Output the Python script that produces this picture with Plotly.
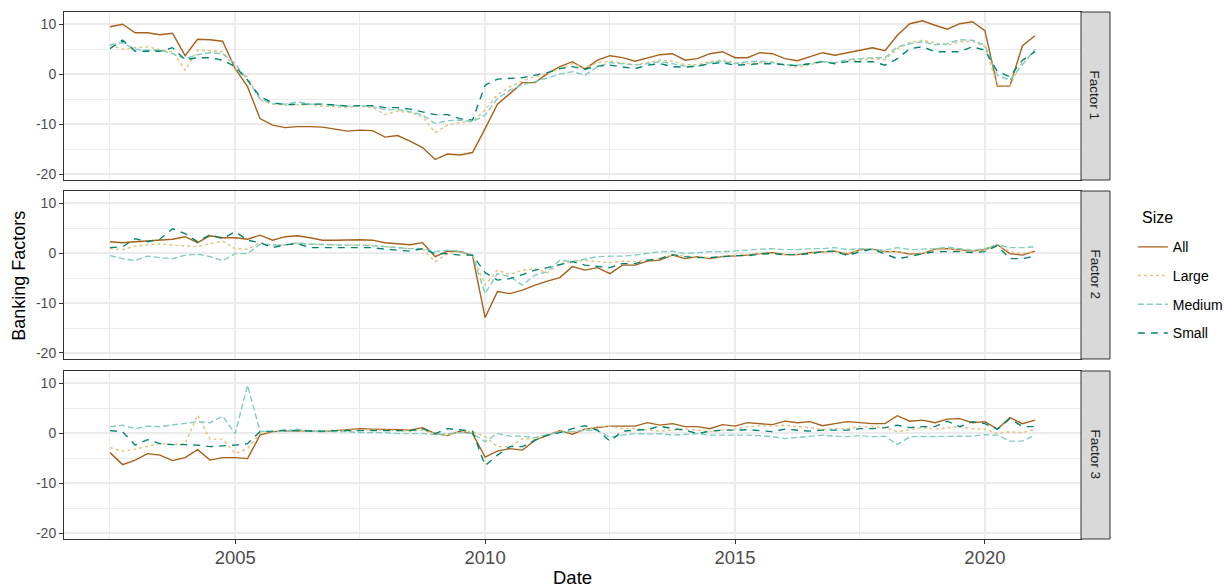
import pandas as pd
import plotly.graph_objects as go

# ---------------- data ----------------
dates = pd.date_range("2002-07-01", periods=75, freq="QS")
sizes = ["All", "Large", "Medium", "Small"]
factors = ["Factor 1", "Factor 2", "Factor 3"]

f1_all = [9.5, 10.0, 8.3, 8.3, 7.9, 8.2, 3.7, 7.0, 6.9, 6.6, 1.1, -2.5, -8.9, -10.2, -10.7, -10.5, -10.5, -10.6, -11.0, -11.4,
          -11.2, -11.3, -12.6, -12.3, -13.4, -14.7, -17.1, -16.0, -16.2, -15.7, -10.9, -6.0, -3.9, -1.7, -1.7, 0.1, 1.5, 2.5, 1.0, 2.8,
          3.7, 3.3, 2.6, 3.3, 3.9, 4.1, 2.8, 3.1, 4.1, 4.5, 3.3, 3.3, 4.3, 4.1, 3.1, 2.7, 3.5, 4.3, 3.8, 4.3,
          4.7, 5.3, 4.7, 7.8, 10.1, 10.7, 9.8, 9.0, 10.1, 10.5, 8.7, -2.4, -2.4, 5.7, 7.7]
f1_large = [5.8, 5.0, 5.3, 5.5, 4.9, 4.5, 0.8, 4.8, 4.7, 4.5, 1.1, -0.5, -5.2, -6.0, -6.2, -6.2, -6.1, -6.4, -6.5, -6.7,
            -6.4, -6.7, -8.1, -7.4, -7.7, -8.5, -11.7, -10.2, -9.7, -9.5, -7.2, -4.1, -2.5, -1.4, -0.5, 0.1, 1.1, 2.1, 1.3, 2.3,
            2.6, 2.3, 1.9, 2.3, 2.8, 2.6, 1.9, 1.9, 2.5, 2.8, 2.3, 2.1, 2.3, 2.5, 1.8, 1.4, 1.9, 2.5, 2.3, 2.7,
            2.8, 3.1, 2.9, 5.1, 6.3, 6.8, 6.3, 5.8, 6.5, 6.6, 5.5, -2.2, -2.4, 2.5, 4.5]
f1_medium = [5.9, 6.3, 5.0, 4.8, 4.8, 4.1, 3.1, 3.9, 4.3, 4.1, 2.1, -1.2, -4.9, -5.9, -6.0, -5.5, -6.0, -6.0, -6.2, -6.4,
             -6.3, -6.5, -7.1, -7.1, -7.5, -8.2, -9.9, -9.3, -9.2, -9.5, -8.2, -4.9, -3.2, -2.1, -1.5, -0.7, 0.0, 0.5, -0.2, 1.5,
             2.3, 2.1, 1.8, 2.1, 2.5, 2.1, 1.6, 1.6, 2.3, 2.6, 2.1, 2.5, 2.6, 2.3, 1.9, 1.8, 2.1, 2.5, 2.3, 2.9,
             3.1, 3.3, 3.3, 5.5, 6.1, 6.5, 5.9, 6.1, 6.9, 6.8, 5.8, -0.2, -1.2, 1.8, 5.0]
f1_small = [5.1, 6.8, 4.6, 4.6, 4.6, 5.3, 2.9, 3.3, 3.3, 2.8, 1.5, -1.2, -4.5, -5.7, -6.1, -6.0, -6.0, -6.0, -6.2, -6.4,
            -6.3, -6.3, -6.7, -6.7, -7.0, -7.5, -8.1, -8.1, -8.9, -9.2, -2.2, -1.0, -0.9, -0.7, -0.2, 0.3, 1.1, 1.5, 1.0, 1.6,
            1.8, 1.5, 1.1, 1.8, 2.1, 1.5, 1.4, 1.6, 2.1, 2.3, 1.8, 1.9, 2.1, 2.1, 1.9, 1.7, 2.1, 2.5, 2.1, 2.5,
            2.5, 2.5, 1.8, 3.1, 5.1, 5.5, 4.5, 4.5, 4.5, 5.5, 4.8, 0.5, -0.5, 2.8, 4.5]

f2_all = [2.3, 2.1, 2.3, 2.5, 2.6, 2.8, 3.3, 2.1, 3.5, 3.1, 3.1, 2.8, 3.6, 2.6, 3.3, 3.5, 3.1, 2.6, 2.6, 2.7,
          2.7, 2.6, 2.1, 1.9, 1.7, 2.1, -0.7, 0.4, 0.3, -0.5, -12.9, -7.7, -8.1, -7.4, -6.4, -5.6, -4.9, -2.7, -3.4, -2.9,
          -4.1, -2.4, -2.4, -1.6, -1.4, -0.4, -1.1, -0.7, -1.1, -0.7, -0.6, -0.4, -0.1, 0.1, -0.3, -0.3, 0.1, 0.3, 0.4, -0.2,
          0.7, 0.8, 0.3, 0.3, -0.2, -0.1, 0.8, 0.9, 0.6, 0.4, 0.7, 1.7, -0.1, -0.4, 0.4]
f2_large = [0.9, 0.7, 1.4, 1.6, 1.9, 1.6, 1.5, 1.3, 1.9, 2.4, 0.9, 0.8, 2.1, 1.6, 1.7, 1.9, 1.8, 1.7, 1.6, 1.6,
            1.6, 1.6, 1.3, 1.1, 0.9, 0.9, -1.7, -0.1, 0.3, -0.3, -6.4, -3.4, -4.3, -3.4, -3.1, -3.9, -2.1, -1.7, -1.4, -1.7,
            -1.9, -1.6, -1.7, -1.4, -1.1, -0.4, -0.6, -0.7, -0.9, -0.6, -0.4, -0.3, -0.1, -0.1, -0.3, -0.3, -0.1, 0.3, 0.3, -0.1,
            0.6, 0.7, 0.4, 0.3, -0.4, -0.1, 0.6, 0.9, 0.5, 0.4, 0.6, 1.6, 0.3, -0.1, 0.4]
f2_medium = [-0.5, -1.1, -1.5, -0.6, -0.9, -1.1, -0.4, -0.2, -0.7, -1.5, -0.1, -0.1, 1.8, 1.6, 1.6, 2.1, 1.8, 1.7, 1.6, 1.6,
             1.6, 1.5, 1.3, 1.1, 0.9, 0.9, 0.3, 0.6, 0.4, -0.4, -8.1, -4.1, -4.7, -6.4, -4.4, -3.7, -1.4, -1.7, -1.2, -0.7,
             -0.6, -0.6, -0.4, -0.1, 0.3, 0.4, -0.1, 0.1, 0.3, 0.3, 0.4, 0.6, 0.8, 0.9, 0.7, 0.7, 0.9, 0.9, 1.1, 0.7,
             0.9, 0.8, 0.6, 1.1, 0.7, 0.8, 0.9, 1.2, 0.9, 0.6, 0.9, 1.7, 1.1, 1.1, 1.3]
f2_small = [1.1, 1.3, 2.9, 2.3, 2.8, 4.9, 3.9, 2.3, 3.7, 2.9, 4.3, 2.6, 2.1, 1.1, 1.7, 1.9, 1.1, 1.1, 1.1, 1.1,
            1.1, 1.1, 0.8, 0.6, 0.4, 0.9, -0.1, -0.1, -0.4, -0.4, -3.9, -5.4, -5.1, -4.3, -3.4, -2.9, -2.3, -1.7, -2.4, -2.6,
            -2.9, -2.1, -2.1, -1.4, -1.1, -0.3, -0.7, -0.9, -0.9, -0.7, -0.5, -0.5, -0.2, -0.1, -0.3, -0.3, -0.1, 0.3, 0.4, -0.5,
            0.3, 0.8, -0.1, -1.1, -0.7, -0.1, 0.3, 0.3, 0.3, 0.1, 0.3, 1.5, -1.1, -1.1, -0.6]

f3_all = [-3.9, -6.3, -5.4, -4.1, -4.4, -5.5, -4.9, -3.3, -5.4, -4.9, -4.9, -5.1, -0.4, 0.3, 0.4, 0.5, 0.4, 0.3, 0.5, 0.7,
          0.9, 0.8, 0.8, 0.7, 0.6, 1.1, -0.1, -0.5, 0.4, -0.1, -4.8, -3.6, -3.1, -3.4, -1.4, -0.4, 0.5, -0.2, 0.8, 1.1,
          1.4, 1.4, 1.4, 2.1, 1.6, 1.9, 1.3, 1.3, 0.9, 1.7, 1.4, 2.1, 1.9, 1.7, 2.4, 2.1, 2.3, 1.5, 1.9, 2.3,
          2.1, 1.9, 1.9, 3.5, 2.4, 2.6, 2.1, 2.8, 2.9, 2.1, 2.3, 0.8, 3.1, 1.9, 2.6]
f3_large = [-2.9, -3.6, -3.2, -2.7, -2.1, -2.3, -2.1, 3.6, -1.2, -1.2, -4.1, -3.1, -0.1, 0.4, 0.5, 0.6, 0.4, 0.4, 0.6, 0.6,
            0.7, 0.6, 0.6, 0.5, 0.4, 0.6, -0.1, -0.5, 0.3, 0.3, -0.7, -2.7, -2.7, -1.1, -1.2, -0.4, 0.5, 0.2, 0.8, 1.3,
            1.4, 0.9, 0.9, 0.6, 0.4, 0.6, 0.9, 0.6, 0.3, 0.6, 0.8, 1.3, 1.5, 1.4, 1.6, 1.3, 1.1, 0.7, 0.9, 0.9,
            1.3, 1.3, 1.1, 0.3, 0.7, 1.1, 0.8, 1.1, 1.3, 0.9, 0.8, -0.1, 0.3, 0.1, 0.8]
f3_medium = [1.3, 1.6, 0.9, 1.4, 1.3, 1.6, 1.9, 2.3, 2.1, 3.4, -0.1, 9.6, 0.4, 0.3, 0.4, 0.8, 0.4, 0.3, 0.3, 0.3,
             0.1, 0.1, 0.1, -0.1, -0.1, -0.1, -0.3, -0.1, 0.1, -0.1, -1.7, -0.1, -0.6, -0.6, -0.9, -0.3, 0.2, 0.3, 0.6, 0.5,
             -0.8, -0.4, -0.1, -0.2, -0.1, -0.4, -0.3, -0.1, -0.4, -0.4, -0.3, -0.4, -0.5, -0.7, -1.1, -0.9, -0.7, -0.4, -0.6, -0.7,
             -0.5, -0.7, -0.6, -2.3, -0.7, -0.7, -0.6, -0.6, -0.7, -0.6, -0.3, -0.4, -1.6, -1.6, -0.4]
f3_small = [0.5, 0.3, -2.4, -1.3, -2.1, -2.3, -2.3, -2.4, -2.7, -2.6, -2.4, -2.1, 0.3, 0.4, 0.6, 0.5, 0.4, 0.4, 0.5, 0.5,
            0.6, 0.6, 0.6, 0.5, 0.5, 0.9, -0.1, 0.9, 0.6, 0.4, -6.5, -4.4, -2.7, -2.7, -1.4, -0.4, 0.1, 0.9, 1.5, 0.6,
            -1.6, 0.4, 0.6, 0.7, 1.4, 0.9, 0.6, -0.1, 0.4, 0.6, 0.6, 0.7, 0.5, 0.3, 0.8, 0.6, 0.4, 0.6, 0.6, 0.6,
            0.9, 0.9, 1.1, 1.6, 1.1, 1.3, 1.3, 2.4, 1.3, 2.3, 1.9, 0.8, 2.9, 1.3, 1.3]

y_ticks = [-20, -10, 0, 10]
y_tick_labels = ["-20", "-10", "0", "10"]
x_ticks = ["2005-01-01", "2010-01-01", "2015-01-01", "2020-01-01"]
x_tick_labels = ["2005", "2010", "2015", "2020"]

data = {
    "Factor 1": [f1_all, f1_large, f1_medium, f1_small],
    "Factor 2": [f2_all, f2_large, f2_medium, f2_small],
    "Factor 3": [f3_all, f3_large, f3_medium, f3_small],
}

# ---------------- styling ----------------
colors = {"All": "#A6611A", "Large": "#DFC27D", "Medium": "#80CDC1", "Small": "#018571"}
dashes = {"All": "solid", "Large": "3px,3px", "Medium": "6px,3px", "Small": "7px,6px"}
FONT = "Arial, Liberation Sans, Helvetica, sans-serif"

domains = [[0.6812, 1.0], [0.3416, 0.6603], [0.0, 0.3188]]
x_range = ["2001-07-30", "2021-12-03"]
y_range = [-21.2, 12.45]

fig = go.Figure()
for k, fac in enumerate(factors):
    ax = "" if k == 0 else str(k + 1)
    for s, vals in zip(sizes, data[fac]):
        fig.add_trace(go.Scatter(
            x=dates, y=vals, mode="lines", name=s,
            legendgroup=s, showlegend=(k == 0),
            line=dict(color=colors[s], width=1.4, dash=dashes[s]),
            xaxis="x" + ax, yaxis="y" + ax,
        ))

layout = dict(
    width=1226, height=587, autosize=False,
    margin=dict(l=64, r=145, t=12, b=48, autoexpand=False),
    paper_bgcolor="white", plot_bgcolor="white",
    font=dict(family=FONT, color="#000000"),
    legend=dict(
        x=1.051, xanchor="left", y=0.584, yanchor="top",
        font=dict(size=14, color="#000000"),
        tracegroupgap=7.5, bgcolor="rgba(0,0,0,0)",
    ),
    showlegend=True,
)

grid = "#EBEBEB"
for k in range(3):
    ax = "" if k == 0 else str(k + 1)
    bottom = (k == 2)
    layout["xaxis" + ax] = dict(
        domain=[0, 1], anchor="y" + ax, range=x_range, type="date",
        tickvals=x_ticks, ticktext=x_tick_labels,
        showticklabels=bottom, ticks="outside" if bottom else "",
        ticklen=4, tickwidth=1, tickcolor="#333333", ticklabelstandoff=-2,
        tickfont=dict(size=18.5, color="#4D4D4D"),
        showgrid=True, gridcolor=grid, gridwidth=1.6,
        minor=dict(dtick="M30", tick0="2002-07-01", showgrid=True, gridcolor=grid, gridwidth=0.8),
        showline=True, mirror=True, linecolor="#333333", linewidth=1,
        zeroline=False,
        matches="x" if k > 0 else None,
    )
    layout["yaxis" + ax] = dict(
        domain=domains[k], anchor="x" + ax, range=y_range,
        tickvals=y_ticks, ticktext=y_tick_labels,
        ticks="outside", ticklen=4, tickwidth=1, tickcolor="#333333",
        tickfont=dict(size=14, color="#4D4D4D"),
        showgrid=True, gridcolor=grid, gridwidth=1.6,
        minor=dict(tickvals=[-15, -5, 5], showgrid=True, gridcolor=grid, gridwidth=0.8),
        showline=True, mirror=True, linecolor="#333333", linewidth=1,
        zeroline=False,
    )

fig.update_layout(**layout)

# facet strips on the right
strip_x0, strip_x1 = 1.0, 1.0285
for k, fac in enumerate(factors):
    y0, y1 = domains[k]
    fig.add_shape(type="rect", xref="paper", yref="paper",
                  x0=strip_x0, x1=strip_x1, y0=y0, y1=y1,
                  fillcolor="#D9D9D9", line=dict(color="#333333", width=1), layer="above")
    fig.add_annotation(xref="paper", yref="paper", x=(strip_x0 + strip_x1) / 2, y=(y0 + y1) / 2,
                       xanchor="center", yanchor="middle",
                       text=fac, textangle=90, showarrow=False,
                       font=dict(size=13.5, color="#1A1A1A"))

# legend title
fig.add_annotation(xref="paper", yref="paper", x=1.058, y=0.611, xanchor="left", yanchor="middle",
                   text="Size", showarrow=False, font=dict(size=16, color="#000000"))

# axis titles
fig.add_annotation(xref="paper", yref="paper", x=0.5, y=-0.074, xanchor="center", yanchor="middle",
                   text="Date", showarrow=False, font=dict(size=18.5, color="#000000"))
fig.add_annotation(xref="paper", yref="paper", x=-0.045, y=0.5, xanchor="center", yanchor="middle",
                   text="Banking Factors", textangle=-90, showarrow=False,
                   font=dict(size=18, color="#000000"))

fig.write_html(
    "out.html",
    config={"responsive": False, "displayModeBar": False},
    post_script="document.body.style.margin='0';document.body.style.overflow='hidden';",
)
